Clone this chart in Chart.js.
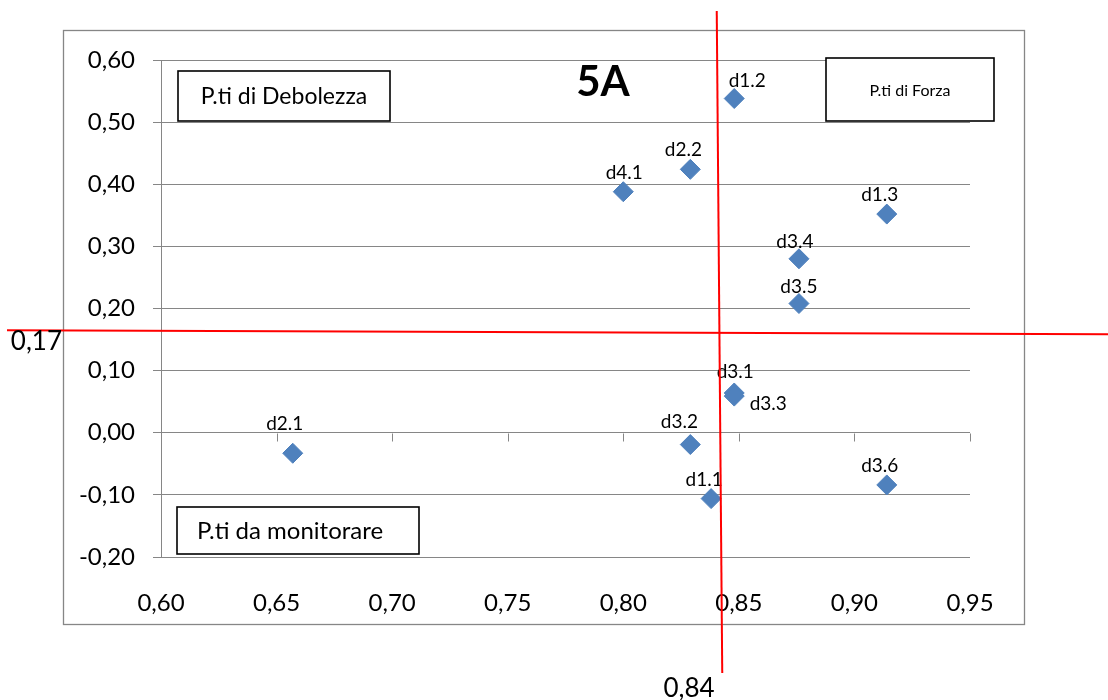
<!DOCTYPE html>
<html>
<head>
<meta charset="utf-8">
<script src="https://cdn.jsdelivr.net/npm/chart.js@4.4.0/dist/chart.umd.min.js"></script>
<style>
  body { margin: 0; background: #fff; }
  #box { width: 1108px; height: 700px; }
</style>
</head>
<body>
<div id="box"><canvas id="matrice" width="1108" height="700"></canvas></div>
<script>
var pointLabels = ['d1.1', 'd1.2', 'd1.3', 'd2.1', 'd2.2', 'd3.1', 'd3.2', 'd3.3', 'd3.4', 'd3.5', 'd3.6', 'd4.1'];
var xValues = [0.838, 0.848, 0.914, 0.657, 0.829, 0.848, 0.829, 0.848, 0.876, 0.876, 0.914, 0.800];
var yValues = [-0.106, 0.538, 0.352, -0.033, 0.424, 0.064, -0.019, 0.059, 0.280, 0.208, -0.084, 0.388];

var xRange = [0.60, 0.95], xStep = 0.05;
var yRange = [-0.20, 0.60], yStep = 0.10;

var sogliaX = 0.84;
var sogliaY = 0.17;

var titolo = '5A';
var quadranti = ['P.ti di Debolezza', 'P.ti di Forza', 'P.ti da monitorare'];

var fontFam = 'Lato, "Open Sans", sans-serif';
var grigio = '#868686';

function virgola(v) {
  if (Math.abs(v) < 1e-9) v = 0;
  return v.toFixed(2).replace('.', ',');
}

// spostamenti delle etichette dei punti (come nell'originale)
var labelShift = {
  'd1.2': [13, -18], 'd2.1': [-8, -29], 'd3.1': [1, -21], 'd3.3': [34, 8],
  'd3.5': [0, -17], 'd4.1': [1, -19], 'd3.4': [-4, -17], 'd3.2': [-11, -23]
};

var punti = xValues.map(function (x, i) { return { x: x, y: yValues[i] }; });

var decorazioni = {
  id: 'decorazioni',
  beforeDraw: function (chart) {
    var ctx = chart.ctx;
    ctx.save();
    ctx.fillStyle = '#fff';
    ctx.fillRect(0, 0, chart.width, chart.height);
    ctx.strokeStyle = grigio;
    ctx.lineWidth = 1.3;
    ctx.strokeRect(63.5, 30.5, 961, 594);
    ctx.restore();
  },
  afterDatasetsDraw: function (chart) {
    var ctx = chart.ctx;
    var sx = chart.scales.x, sy = chart.scales.y;
    ctx.save();

    // asse x che incrocia a 0, con le tacche
    var y0 = Math.round(sy.getPixelForValue(0)) + 0.5;
    ctx.strokeStyle = grigio;
    ctx.lineWidth = 1;
    sx.ticks.forEach(function (t) {
      var px = Math.round(sx.getPixelForValue(t.value)) + 0.5;
      ctx.beginPath();
      ctx.moveTo(px, y0);
      ctx.lineTo(px, y0 + 8);
      ctx.stroke();
    });

    // etichette dei punti
    var meta = chart.getDatasetMeta(0);
    ctx.fillStyle = '#000';
    ctx.font = '19px ' + fontFam;
    ctx.textAlign = 'center';
    ctx.textBaseline = 'middle';
    meta.data.forEach(function (el, i) {
      var s = labelShift[pointLabels[i]] || [-7, -19];
      ctx.fillText(pointLabels[i], el.x + s[0], el.y + s[1]);
    });

    // riquadri
    function riquadro(x, y, w, h, testo, size, align, tx) {
      ctx.fillStyle = '#fff';
      ctx.fillRect(x, y, w, h);
      ctx.strokeStyle = '#000';
      ctx.lineWidth = 1.6;
      ctx.strokeRect(x, y, w, h);
      ctx.fillStyle = '#000';
      ctx.font = size + 'px ' + fontFam;
      ctx.textAlign = align;
      ctx.textBaseline = 'middle';
      ctx.fillText(testo, tx, y + h / 2 + 1);
    }
    riquadro(178, 71, 212, 50, quadranti[0], 23, 'center', 284);
    riquadro(826, 58, 168, 63, quadranti[1], 16, 'center', 910);
    riquadro(177, 507, 242, 47, quadranti[2], 24, 'left', 197);

    ctx.fillStyle = '#000';
    ctx.font = 'bold 42px ' + fontFam;
    ctx.textAlign = 'center';
    ctx.textBaseline = 'middle';
    ctx.fillText(titolo, 603, 82);

    // linee rosse delle soglie
    var vx = sx.getPixelForValue(sogliaX);
    var hy = sy.getPixelForValue(sogliaY);
    ctx.strokeStyle = '#ff0000';
    ctx.lineWidth = 2;
    ctx.beginPath();
    ctx.moveTo(vx + 1, 11);
    ctx.lineTo(vx + 6.5, 673);
    ctx.stroke();
    ctx.beginPath();
    ctx.moveTo(7, hy + 3);
    ctx.lineTo(1108, hy + 7);
    ctx.stroke();

    ctx.fillStyle = '#000';
    ctx.font = '26px ' + fontFam;
    ctx.textAlign = 'right';
    ctx.fillText(virgola(sogliaY), 62, 342);
    ctx.textAlign = 'center';
    ctx.fillText(virgola(sogliaX), 689, 689);

    ctx.restore();
  }
};

new Chart(document.getElementById('matrice'), {
  type: 'scatter',
  data: {
    datasets: [{
      label: 'Punti',
      data: punti,
      pointStyle: 'rectRot',
      pointRadius: 10,
      pointHoverRadius: 10,
      backgroundColor: '#4f81bd',
      borderColor: '#4f81bd',
      borderWidth: 1
    }]
  },
  options: {
    responsive: false,
    animation: false,
    events: [],
    layout: { padding: { left: 0, right: 138, top: 60, bottom: 0 } },
    plugins: {
      legend: { display: false },
      tooltip: { enabled: false }
    },
    scales: {
      x: {
        type: 'linear',
        min: xRange[0],
        max: xRange[1],
        grid: { display: false },
        border: { display: false },
        ticks: {
          stepSize: xStep,
          padding: 24,
          color: '#000',
          font: { family: fontFam, size: 24 },
          callback: function (v) { return virgola(v); }
        },
        afterFit: function (scale) { scale.height = 143; }
      },
      y: {
        type: 'linear',
        min: yRange[0],
        max: yRange[1],
        grid: { color: grigio, lineWidth: 1, tickLength: 8 },
        border: { display: true, color: grigio, width: 1 },
        ticks: {
          stepSize: yStep,
          padding: 18,
          color: '#000',
          font: { family: fontFam, size: 24 },
          callback: function (v) { return virgola(v); }
        },
        afterFit: function (scale) { scale.width = 161; }
      }
    }
  },
  plugins: [decorazioni]
});
</script>
</body>
</html>
